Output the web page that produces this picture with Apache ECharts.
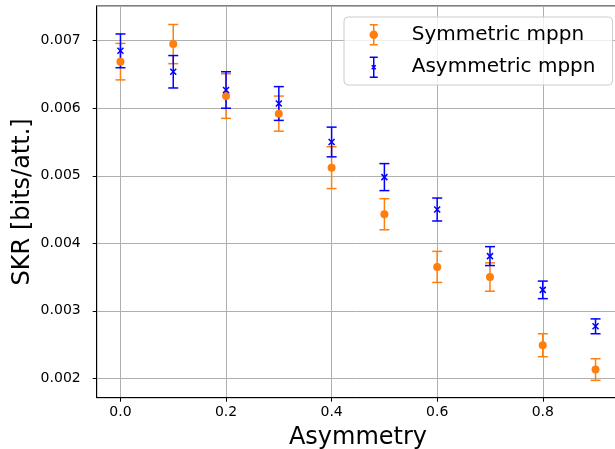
<!DOCTYPE html>
<html>
<head>
<meta charset="utf-8">
<script src="https://cdn.jsdelivr.net/npm/echarts@6/dist/echarts.min.js"></script>
<style>
  html, body { margin: 0; padding: 0; background: #fff; }
  #chart { width: 615px; height: 449px; }
</style>
</head>
<body>
<div id="chart"></div>
<script>
// data
const asymmetry = [0.0, 0.1, 0.2, 0.3, 0.4, 0.5, 0.6, 0.7, 0.8, 0.9]
const symMean = [0.00669, 0.00695, 0.00618, 0.00592, 0.00512, 0.00443, 0.00365, 0.00350, 0.00249, 0.00213]
const symErr = [0.00027, 0.00029, 0.00033, 0.00026, 0.00031, 0.00023, 0.00023, 0.00021, 0.00017, 0.00016]
const asymMean = [0.00685, 0.00654, 0.00627, 0.00607, 0.00550, 0.00498, 0.00450, 0.00381, 0.00331, 0.00277]
const asymErr = [0.00025, 0.00024, 0.00027, 0.00025, 0.00022, 0.00020, 0.00017, 0.00014, 0.00013, 0.00011]

const ORANGE = '#ff7f0e'
const BLUE = '#0000ff'
const FONT = 'DejaVu Sans'

function points (mean) {
  return asymmetry.map((x, i) => [x, mean[i]])
}
function bars (mean, err) {
  return asymmetry.map((x, i) => [x, mean[i] - err[i], mean[i] + err[i]])
}

function errorBar (color) {
  return function (params, api) {
    const top = api.coord([api.value(0), api.value(2)])
    const bot = api.coord([api.value(0), api.value(1)])
    const style = { stroke: color, lineWidth: 1.5 }
    const cap = 5
    return {
      type: 'group',
      children: [
        { type: 'line', shape: { x1: top[0], y1: top[1], x2: bot[0], y2: bot[1] }, style },
        { type: 'line', shape: { x1: top[0] - cap, y1: top[1], x2: top[0] + cap, y2: top[1] }, style },
        { type: 'line', shape: { x1: bot[0] - cap, y1: bot[1], x2: bot[0] + cap, y2: bot[1] }, style }
      ]
    }
  }
}

const chart = echarts.init(document.getElementById('chart'), null, { renderer: 'canvas' })

chart.setOption({
  animation: false,
  textStyle: { fontFamily: FONT, color: '#000' },
  grid: {
    left: 96.7,
    right: -4.3,
    top: 6,
    bottom: 51.3,
    show: true,
    borderColor: '#000',
    borderWidth: 1,
    outerBoundsMode: 'none'
  },
  legend: {
    orient: 'vertical',
    left: 344,
    top: 17,
    padding: [7, 17, 7, 25],
    itemWidth: 8,
    itemHeight: 20,
    itemGap: 11,
    backgroundColor: 'rgba(255,255,255,0.8)',
    borderColor: '#cccccc',
    borderWidth: 1,
    borderRadius: 4,
    textStyle: { fontFamily: FONT, fontSize: 20, color: '#000', padding: [0, 0, 0, 29] },
    data: [
      {
        name: 'Symmetric mppn',
        icon: 'path://M0,0L8,0M4,0L4,20M0,20L8,20M7.5,10A3.5,3.5,0,1,1,0.5,10A3.5,3.5,0,1,1,7.5,10Z',
        itemStyle: { color: ORANGE, borderColor: ORANGE, borderWidth: 1.5, opacity: 1 }
      },
      {
        name: 'Asymmetric mppn',
        icon: 'path://M0,0L8,0M4,0L4,20M0,20L8,20M2,8L6,12M6,8L2,12',
        itemStyle: { color: BLUE, borderColor: BLUE, borderWidth: 1.5, opacity: 1 }
      }
    ]
  },
  xAxis: {
    type: 'value',
    min: -0.045,
    max: 0.945,
    splitNumber: 5,
    name: 'Asymmetry',
    nameLocation: 'middle',
    nameGap: 28,
    nameMoveOverlap: false,
    nameTextStyle: { fontFamily: FONT, fontSize: 24, color: '#000' },
    axisLine: { show: true, onZero: false, lineStyle: { color: '#000', width: 1 } },
    axisTick: { show: true, inside: false, length: 4, lineStyle: { color: '#000' } },
    axisLabel: {
      fontFamily: FONT,
      fontSize: 14,
      color: '#000',
      margin: 8,
      showMinLabel: false,
      showMaxLabel: false,
      formatter: v => v.toFixed(1)
    },
    splitLine: { show: true, lineStyle: { color: '#b0b0b0', width: 1 } }
  },
  yAxis: {
    type: 'value',
    min: 0.001713,
    max: 0.007514,
    splitNumber: 6,
    name: 'SKR [bits/att.]',
    nameLocation: 'middle',
    nameGap: 62,
    nameMoveOverlap: false,
    nameTextStyle: { fontFamily: FONT, fontSize: 24, color: '#000' },
    axisLine: { show: true, onZero: false, lineStyle: { color: '#000', width: 1 } },
    axisTick: { show: true, inside: false, length: 4, lineStyle: { color: '#000' } },
    axisLabel: {
      fontFamily: FONT,
      fontSize: 14,
      color: '#000',
      margin: 16,
      showMinLabel: false,
      showMaxLabel: false,
      formatter: v => v.toFixed(3)
    },
    splitLine: { show: true, lineStyle: { color: '#b0b0b0', width: 1 } }
  },
  series: [
    {
      name: 'Symmetric mppn',
      type: 'custom',
      renderItem: errorBar(ORANGE),
      encode: { x: 0, y: [1, 2] },
      data: bars(symMean, symErr),
      z: 2
    },
    {
      name: 'Asymmetric mppn',
      type: 'custom',
      renderItem: errorBar(BLUE),
      encode: { x: 0, y: [1, 2] },
      data: bars(asymMean, asymErr),
      z: 2
    },
    {
      name: 'Symmetric mppn',
      type: 'scatter',
      symbol: 'circle',
      symbolSize: 8,
      itemStyle: { color: ORANGE, opacity: 1 },
      data: points(symMean),
      z: 3
    },
    {
      name: 'Asymmetric mppn',
      type: 'scatter',
      symbol: 'path://M0,0L10,10M10,0L0,10',
      symbolSize: 6,
      itemStyle: { color: 'none', borderColor: BLUE, borderWidth: 1.5, opacity: 1 },
      data: points(asymMean),
      z: 3
    }
  ]
})
</script>
</body>
</html>
